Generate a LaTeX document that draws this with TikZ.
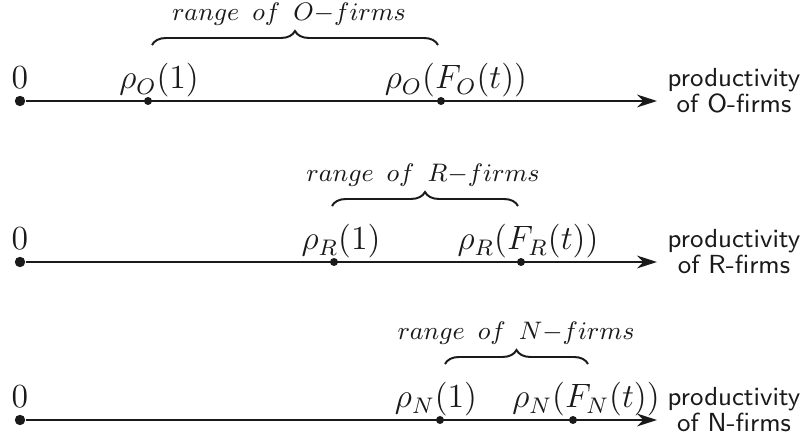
\documentclass[tikz,border=0pt]{standalone}
\usepackage{amsmath,amssymb}
\usepackage{tikz}
\usepackage{xcolor}
\usetikzlibrary{arrows.meta,decorations.pathreplacing}
\definecolor{ink}{HTML}{1A1A1A}
\tikzset{
  axisline/.style={-{Stealth[length=2.5mm,width=1.6mm]},line width=0.75pt,
                   draw=ink},
  origindot/.style={circle,fill=ink,inner sep=0pt,minimum size=1.3mm},
  tickdot/.style={circle,fill=ink,inner sep=0pt,minimum size=1mm},
  ticklabel/.style={font=\large,anchor=base,inner sep=0pt,text=ink},
  axislabel/.style={font=\sffamily\fontsize{9.3}{9.3}\selectfont,
                    anchor=base,inner sep=0pt,text=ink},
  rangebrace/.style={decorate,decoration={brace,amplitude=1.75mm},
                     line width=0.7pt,draw=ink},
  rangelabel/.style={font=\small,anchor=base,inner sep=0pt,text=ink}
}

\begin{document}
\begin{tikzpicture}[x=0.0125cm,y=-0.0125cm]
    \path[use as bounding box] (0,0) rectangle (805,440);
    \foreach \r/\y/\xa/\xb/\ca/\cb/\bl/\br/\ct in {
        O/101/148/441/159/456/152/438/289,
        R/262/334/521/341/528/332/518/423,
        N/420/440/573/436/586/445/588/516}{
      \node[origindot] (z\r) at (20,\y) {};
      \coordinate (e\r) at (657,\y);
      \draw[axisline] (z\r) -- (e\r);
      \node[tickdot] (a\r) at (\xa,\y) {};
      \node[tickdot] (b\r) at (\xb,\y) {};
      \node[ticklabel] (n\r) at (20,\y-12) {$0$};
      \node[ticklabel] (la\r) at (\ca,\y-12) {$\rho_{\r}(1)$};
      \node[ticklabel] (lb\r) at (\cb,\y-12) {$\rho_{\r}(F_{\r}(t))$};
      \node[axislabel] (p\r) at (734,\y-14) {productivity};
      \node[axislabel] (f\r) at (734,\y+12) {of \r-firms};
      \coordinate (bl\r) at (\bl,\y-56);
      \coordinate (br\r) at (\br,\y-56);
      \draw[rangebrace] (bl\r) -- (br\r);
      \node[rangelabel] (t\r) at (\ct,\y-80)
        {$range\ \,of\ \,\r{-}firms$};
    }
  \end{tikzpicture}
\end{document}
